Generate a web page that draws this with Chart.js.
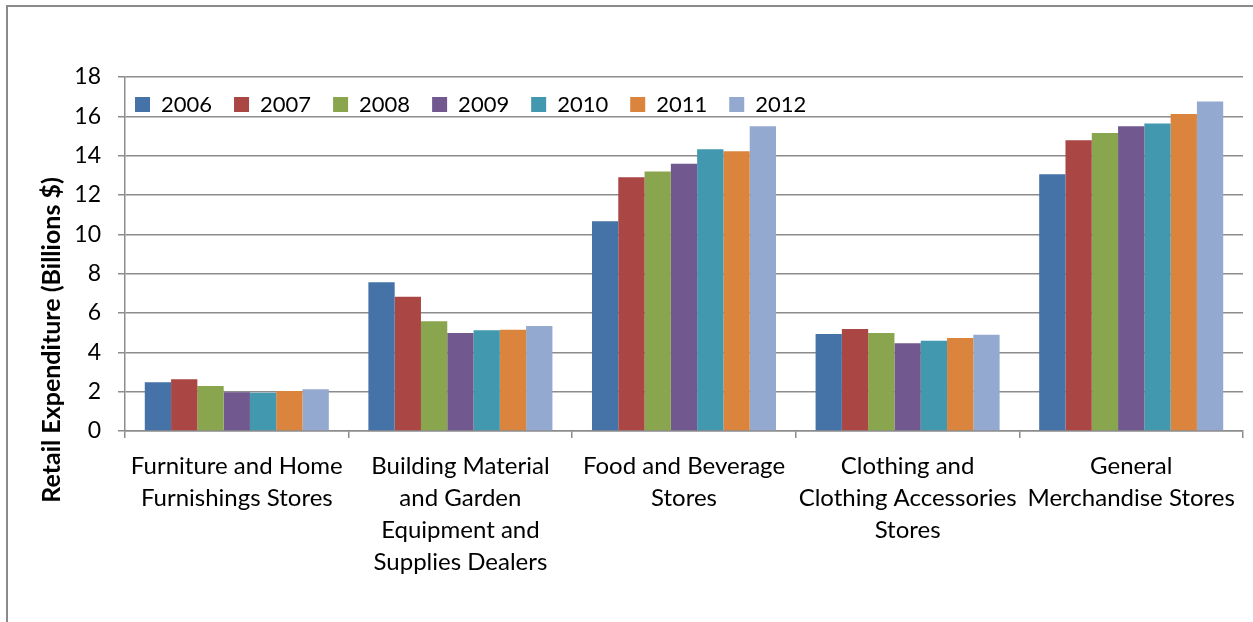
<!DOCTYPE html>
<html>
<head>
<meta charset="utf-8">
<script src="https://cdn.jsdelivr.net/npm/chart.js@4"></script>
<style>
  body { margin: 0; background: #fff; overflow: hidden; }
  #wrap { position: relative; width: 1253px; height: 622px; }
  #frame { position: absolute; left: 6px; top: 5px; width: 1260px; height: 640px; border: 2px solid #8a8a8a; pointer-events: none; }
</style>
</head>
<body>
<div id="wrap">
  <canvas id="chart"></canvas>
  <div id="frame"></div>
</div>
<script>
// Categories (wrapped like the original axis labels)
const categories = [
  ["Furniture and Home", "Furnishings Stores"],
  ["Building Material", "and Garden", "Equipment and", "Supplies Dealers"],
  ["Food and Beverage", "Stores"],
  ["Clothing and", "Clothing Accessories", "Stores"],
  ["General", "Merchandise Stores"]
];

const years = ["2006", "2007", "2008", "2009", "2010", "2011", "2012"];

// Retail expenditure, billions $
const y2006 = [2.48, 7.56, 10.66, 4.93, 13.05];
const y2007 = [2.63, 6.83, 12.90, 5.19, 14.79];
const y2008 = [2.29, 5.58, 13.20, 4.98, 15.15];
const y2009 = [1.97, 4.98, 13.59, 4.46, 15.50];
const y2010 = [1.95, 5.12, 14.32, 4.59, 15.64];
const y2011 = [2.03, 5.15, 14.23, 4.73, 16.12];
const y2012 = [2.12, 5.34, 15.50, 4.90, 16.76];

const yTicks = [0, 2, 4, 6, 8, 10, 12, 14, 16, 18];

const colors = ["#4572A7", "#AA4643", "#89A54E", "#71588F", "#4198AF", "#DB843D", "#93A9CF"];
const series = [y2006, y2007, y2008, y2009, y2010, y2011, y2012];

const axisTitle = "Retail Expenditure (Billions $)";
const gridColor = "#8c8c8c";

// y axis title is centred lower than the plot, so draw it by hand
const yTitlePlugin = {
  id: "yTitle",
  afterDraw(chart) {
    const ctx = chart.ctx;
    ctx.save();
    ctx.translate(52, 340);
    ctx.rotate(-Math.PI / 2);
    ctx.font = "bold 25px Lato";
    ctx.fillStyle = "#000";
    ctx.textAlign = "center";
    ctx.textBaseline = "middle";
    ctx.fillText(axisTitle, 0, 0);
    ctx.restore();
  }
};

// move the top legend down into the plot, where Excel put it
const legendShift = {
  id: "legendShift",
  afterLayout(chart) {
    const lg = chart.legend;
    const dx = 135 - (lg.left + 22);
    const dy = 104.5 - (lg.top + 22 + 11);
    lg.left += dx; lg.right += dx;
    lg.top += dy; lg.bottom += dy;
  }
};

const ctx = document.getElementById("chart").getContext("2d");
const chart = new Chart(ctx, {
  type: "bar",
  data: {
    labels: categories,
    datasets: series.map((data, i) => ({
      label: years[i],
      data: data,
      backgroundColor: colors[i],
      borderWidth: 0,
      categoryPercentage: 0.823,
      barPercentage: 1
    }))
  },
  options: {
    responsive: true,
    maintainAspectRatio: false,
    animation: false,
    layout: { padding: { left: 0, right: 10, top: 23, bottom: 0 } },
    plugins: {
      legend: {
        position: "top",
        align: "start",
        labels: {
          boxWidth: 15,
          boxHeight: 15,
          padding: 22,
          color: "#000",
          font: { family: "Lato", size: 22 }
        }
      },
      tooltip: { enabled: false }
    },
    scales: {
      x: {
        grid: {
          offset: true,
          drawOnChartArea: false,
          tickLength: 7,
          color: gridColor,
          lineWidth: 1.5
        },
        border: { color: gridColor, width: 1.5 },
        ticks: {
          color: "#000",
          font: { family: "Lato", size: 24, lineHeight: 1.333 },
          padding: 12,
          maxRotation: 0,
          autoSkip: false
        },
        afterFit(scale) { scale.height = 622 - 431; }
      },
      y: {
        min: 0,
        max: 18,
        afterBuildTicks(scale) { scale.ticks = yTicks.map(v => ({ value: v })); },
        grid: { color: gridColor, lineWidth: 1.5, tickLength: 7 },
        border: { color: gridColor, width: 1.5 },
        ticks: {
          color: "#000",
          font: { family: "Lato", size: 23 },
          padding: 17
        },
        afterFit(scale) { scale.width = 125; }
      }
    }
  },
  plugins: [yTitlePlugin, legendShift]
});
</script>
</body>
</html>
